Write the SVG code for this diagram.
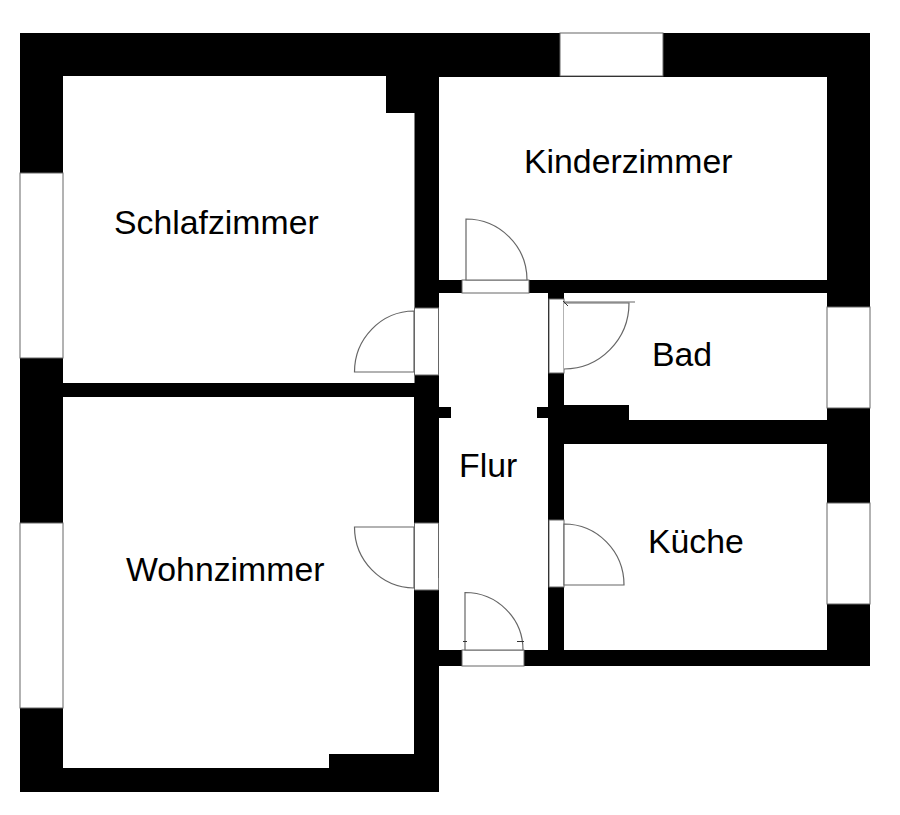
<svg xmlns="http://www.w3.org/2000/svg" width="900" height="815" viewBox="0 0 900 815">
<style>
.wall{fill:#000}
.room{fill:#fff}
.win{fill:#fff;stroke:#666;stroke-width:1}
.door{fill:#fff;stroke:#666;stroke-width:1.2}
.tick{fill:none;stroke:#333;stroke-width:1}
.label{font-family:"Liberation Sans",Arial,sans-serif;font-size:33.800px;fill:#000}
</style>
<rect width="900" height="815" fill="#fff"/>
<path class="wall" d="M20 33H870V666H439V792H20Z"/>
<g id="rooms">
<path class="room" d="M63 76H386V113H414.500V383H63Z"/>
<path class="room" d="M63 397H414V754H329V768H63Z"/>
<path class="room" d="M439 77H827V280H439Z"/>
<path class="room" d="M564 293H827V420H629V405H564Z"/>
<path class="room" d="M564 444H827V650H564Z"/>
<path class="room" d="M439 293H548V407H537V418H548V650H439V418H451V407H439Z"/>
</g>
<g id="windows">
<rect class="win" x="560" y="33" width="103" height="43"/>
<rect class="win" x="20" y="173" width="43" height="185"/>
<rect class="win" x="20" y="523" width="43" height="185"/>
<rect class="win" x="827" y="307" width="43" height="101"/>
<rect class="win" x="827" y="503" width="43" height="101"/>
</g>
<g id="doors">
<rect class="win" x="462" y="280" width="67" height="13"/>
<rect class="win" x="414.500" y="308" width="24" height="67"/>
<rect class="win" x="549" y="299" width="15" height="74"/>
<path class="win" d="M438.500 578V523H414.500V590H438.500"/>
<rect class="win" x="549" y="520" width="15" height="67"/>
<rect class="win" x="462" y="650" width="62" height="16"/>
<path class="door" d="M466 280V219A61 61 0 0 1 527 280Z"/>
<path class="door" d="M414 311A60 61 0 0 0 354.500 372H414Z"/>
<path class="door" d="M564 369A65 66 0 0 0 629 303H564"/>
<path class="door" d="M564 302H635"/>
<path class="tick" d="M563 301L568 306"/>
<path class="door" d="M414 527H354.500A60 61 0 0 0 414 588Z"/>
<path class="door" d="M564 524A60 61 0 0 1 624 585H564Z"/>
<path class="door" d="M465 650V592.500A58 57.500 0 0 1 523 650Z"/>
<path class="tick" d="M463 641.500H467M517 641.500H524"/>
</g>
<g id="labels">
<text class="label" x="114" y="234">Schlafzimmer</text>
<text class="label" x="524" y="173">Kinderzimmer</text>
<text class="label" x="652" y="366">Bad</text>
<text class="label" x="459" y="477">Flur</text>
<text class="label" x="648" y="553">Küche</text>
<text class="label" x="126" y="581">Wohnzimmer</text>
</g>
</svg>
